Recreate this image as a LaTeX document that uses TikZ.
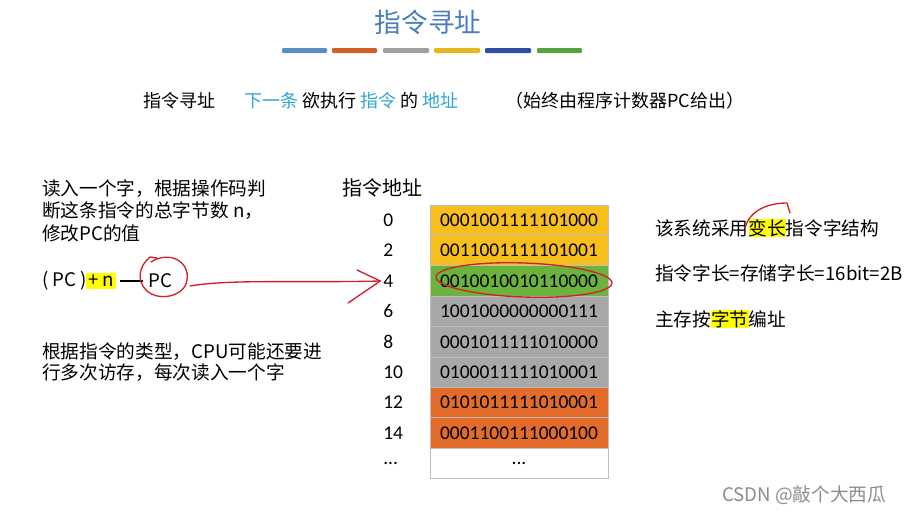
\documentclass[tikz,border=0pt]{standalone}
\usepackage{fontspec}
\setmainfont{Noto Sans CJK SC}
\newfontfamily\numfont{Carlito}
\definecolor{tblue}{HTML}{4A7EBB}
\definecolor{tcyan}{HTML}{2FA5D6}
\definecolor{cyel}{HTML}{F7BE1C}
\definecolor{cgrn}{HTML}{6CB33E}
\definecolor{cgry}{HTML}{A8A8A8}
\definecolor{corg}{HTML}{E36C2B}
\definecolor{hlc}{HTML}{FFFF00}
\definecolor{pen}{HTML}{D0202A}
\definecolor{bA}{HTML}{5B8DC4}
\definecolor{bB}{HTML}{D0602A}
\definecolor{bC}{HTML}{A0A0A0}
\definecolor{bD}{HTML}{E6B820}
\definecolor{bE}{HTML}{2E4FA0}
\definecolor{bF}{HTML}{5AA03C}
\newcommand\hlmark[1]{{\setlength\fboxsep{0pt}\colorbox{hlc}{#1}}}
\newcommand\tdots{...}
\begin{document}
\begin{tikzpicture}[x=0.75pt,y=-0.75pt,
  txt/.style={anchor=west,inner sep=0pt,font=\fontsize{14}{17}\selectfont},
  txtb/.style={anchor=west,inner sep=0pt,font=\fontsize{13.5}{16}\selectfont},
  addr/.style={anchor=west,inner sep=0pt,font=\numfont\fontsize{14.6}{17}\selectfont},
  rowbox/.style={draw=white!75!black,line width=0.6pt,minimum width=133.5pt,minimum height=22.8pt,inner sep=0pt,font=\numfont\fontsize{14.6}{17}\selectfont},
  bar/.style={rounded corners=0.8pt},
  penline/.style={draw=pen,line width=1pt,line cap=round,line join=round}]
\useasboundingbox (0,0) rectangle (907,514);
\fill[white] (0,0) rectangle (907,514);
% title
\node[inner sep=0pt,text=tblue,font=\fontsize{20}{24}\selectfont] (title) at (428,22) {指令寻址};
\fill[bar,bA] (282,48) rectangle (327,53);
\fill[bar,bB] (332,48) rectangle (377,53);
\fill[bar,bC] (383,48) rectangle (429,53);
\fill[bar,bD] (434,48) rectangle (480,53);
\fill[bar,bE] (485,48) rectangle (531,53);
\fill[bar,bF] (537,48) rectangle (582,53);
% line 2
\node[txtb] (l2a) at (143,101) {指令寻址};
\node[txtb] (l2b) at (244,101) {\textcolor{tcyan}{下一条} 欲执行 \textcolor{tcyan}{指令} 的 \textcolor{tcyan}{地址}};
\node[txtb] (l2c) at (505,101) {（始终由程序计数器PC给出）};
% left texts
\node[txt] (lt1) at (42,189) {读入一个字，根据操作码判};
\node[txt] (lt2) at (42,211) {断这条指令的总字节数 n，};
\node[txt] (lt3) at (42,233) {修改PC的值};
\node[txt] (pcn) at (42,281) {( PC )};
\node[txt,fill=hlc,inner xsep=1.5pt,inner ysep=2pt] (pn) at (86,281) {+ n};
\node[txt] (pc) at (148,281) {PC};
\draw[line width=1.2pt] ([xshift=3pt]pn.east) -- ([xshift=-4pt]pc.west);
\node[txt] (lt4) at (42,352) {根据指令的类型，CPU可能还要进};
\node[txt] (lt5) at (42,373) {行多次访存，每次读入一个字};
% table
\node[anchor=west,inner sep=0pt,font=\fontsize{15}{18}\selectfont] (hdr) at (342,188) {指令地址};
\foreach \i/\ad/\bits/\col in {0/0/0001001111101000/cyel,1/2/0011001111101001/cyel,2/4/0010010010110000/cgrn,3/6/1001000000000111/cgry,4/8/0001011111010000/cgry,5/10/0100011111010001/cgry,6/12/0101011111010001/corg,7/14/0001100111000100/corg,8/\tdots/\tdots/white}{
  \node[rowbox,fill=\col] (r\i) at (519,{220.2+30.4*\i}) {\bits};
  \node[addr] (a\i) at (383,{220.2+30.4*\i}) {\ad};
}
% red pen annotations
\draw[penline] (151,262) .. controls (170,250) and (190,262) .. (187,280)
  .. controls (185,296) and (160,302) .. (147,291)
  .. controls (136,281) and (139,266) .. (150,257) -- (157,258);
\coordinate (c1) at (190,286);
\draw[penline] (c1) .. controls (230,279) and (300,283) .. ([xshift=-2pt]a2.west);
\draw[penline] (357,270) -- ([xshift=-2pt]a2.west) -- (348,303);
\draw[penline,rotate around={-2:(524,280)}] (524,280) ellipse [x radius=88, y radius=17];
% right texts
\node[txt] (rt1) at (655,228) {该系统采用\hlmark{变长}指令字结构};
\node[txt] (rt2) at (655,273) {指令字长=存储字长=16bit=2B};
\node[txt] (rt3) at (655,319) {主存按\hlmark{字节}编址};
\draw[penline] (745,228) .. controls (750,209) and (770,203) .. (787,203) -- (790,213);
% watermark
\node[anchor=west,inner sep=0pt,text=black!45,font=\fontsize{14}{17}\selectfont] (wm) at (722,495) {CSDN @敲个大西瓜};
\end{tikzpicture}
\end{document}
